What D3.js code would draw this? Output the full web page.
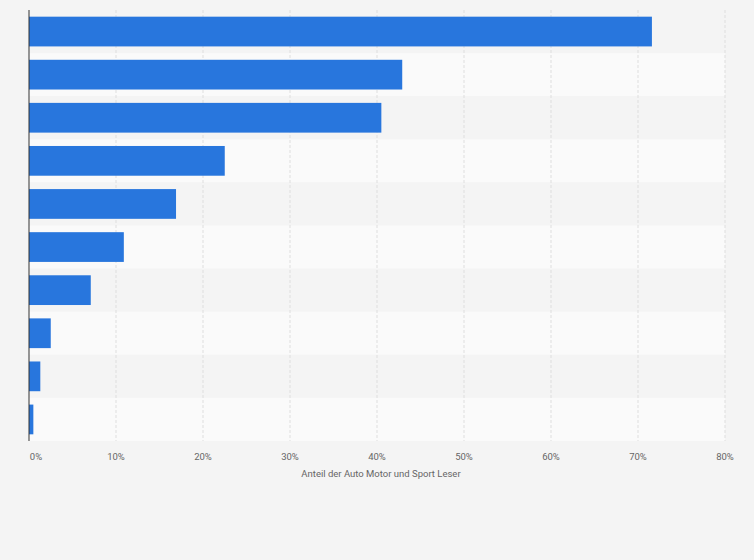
<!DOCTYPE html>
<html><head><meta charset="utf-8">
<script src="https://cdn.jsdelivr.net/npm/d3@7"></script>
<style>body{margin:0;background:#f4f4f4;}svg{display:block;font-family:Roboto,Arial,sans-serif;}</style>
</head><body><svg id="c" width="754" height="560"></svg>
<script>
const categories = ["K1","K2","K3","K4","K5","K6","K7","K8","K9","K10"];
const values = [71.6, 42.9, 40.5, 22.5, 16.9, 10.9, 7.1, 2.5, 1.3, 0.5];
const tickValues = [0,10,20,30,40,50,60,70,80];
const axisTitle = "Anteil der Auto Motor und Sport Leser";

const svg = d3.select("#c");
const m = {l:29, r:725, t:10, b:441};
const x = d3.scaleLinear().domain([0,80]).range([m.l, m.r]);
const y = d3.scaleBand().domain(categories).range([m.t, m.b]).paddingInner(0).paddingOuter(0);

svg.append("rect").attr("width",754).attr("height",560).attr("fill","#f4f4f4");
svg.selectAll(".stripe").data(categories).join("rect")
  .attr("x",m.l).attr("y",d=>y(d)).attr("width",m.r-m.l).attr("height",y.bandwidth())
  .attr("fill",(d,i)=>i%2?"#fafafa":"#f4f4f4");
svg.selectAll(".grid").data(tickValues.slice(1)).join("line")
  .attr("x1",d=>x(d)).attr("x2",d=>x(d)).attr("y1",m.t).attr("y2",m.b)
  .attr("stroke","#dedede").attr("stroke-dasharray","3,2");
const bh = y.bandwidth()*0.69;
svg.selectAll(".bar").data(values).join("rect")
  .attr("x",x(0)).attr("y",(d,i)=>y(categories[i])+(y.bandwidth()-bh)/2)
  .attr("width",d=>x(d)-x(0)).attr("height",bh).attr("fill","#2876dd");
svg.append("line").attr("x1",m.l).attr("x2",m.l).attr("y1",m.t).attr("y2",m.b).attr("stroke","#333");
svg.selectAll(".tl").data(tickValues).join("text")
  .attr("x",d=>x(d)+(d===0?7:0)).attr("y",460).attr("text-anchor","middle")
  .attr("font-size",9.5).attr("fill","#666").text(d=>d+"%");
svg.append("text").attr("x",(m.l+m.r)/2+4).attr("y",477).attr("text-anchor","middle")
  .attr("font-size",9.5).attr("fill","#666").text(axisTitle);
</script></body></html>
